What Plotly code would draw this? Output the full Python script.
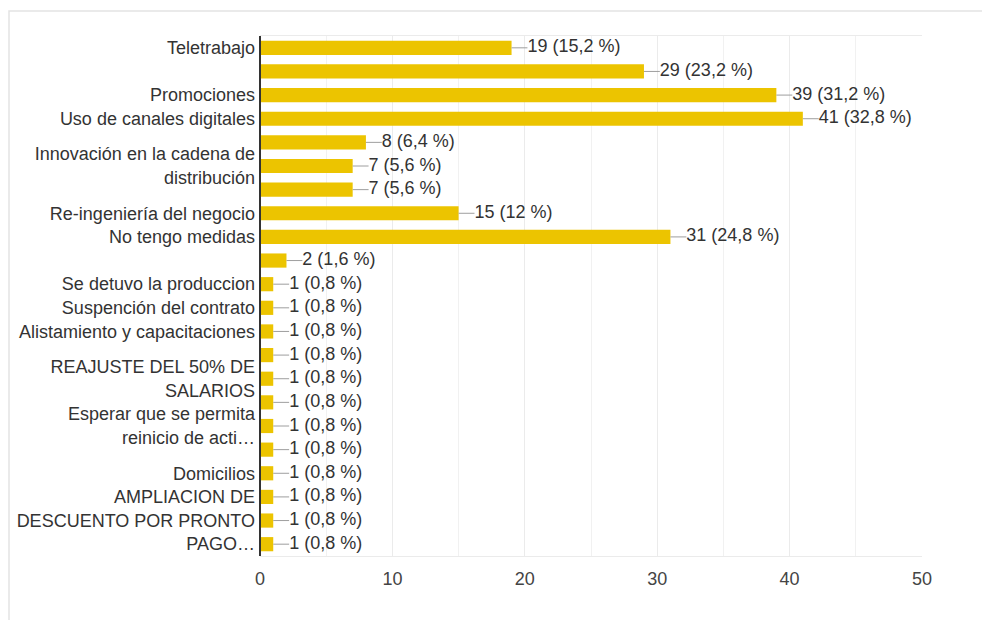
import plotly.graph_objects as go

# answer labels (one per bar; "" where the chart shows no label, "\n" separates wrapped lines)
categories = [
    "Teletrabajo", "", "Promociones", "Uso de canales digitales",
    "", "Innovación en la cadena de\ndistribución", "",
    "Re-ingeniería del negocio", "No tengo medidas", "",
    "Se detuvo la produccion", "Suspención del contrato", "Alistamiento y capacitaciones",
    "", "REAJUSTE DEL 50% DE\nSALARIOS", "", "Esperar que se permita\nreinicio de acti…", "",
    "Domicilios", "", "AMPLIACION DE\nDESCUENTO POR PRONTO\nPAGO…", "",
]
counts = [19, 29, 39, 41, 8, 7, 7, 15, 31, 2, 1, 1, 1, 1, 1, 1, 1, 1, 1, 1, 1, 1]
percents = ["15,2", "23,2", "31,2", "32,8", "6,4", "5,6", "5,6", "12", "24,8", "1,6",
            "0,8", "0,8", "0,8", "0,8", "0,8", "0,8", "0,8", "0,8", "0,8", "0,8", "0,8", "0,8"]
x_ticks = [0, 10, 20, 30, 40, 50]

n = len(counts)
pos = list(range(n))

# split wrapped labels into separate tick lines spaced one band apart
tickvals, ticktext = [], []
for i, lab in enumerate(categories):
    if not lab:
        continue
    lines = lab.split("\n")
    k = len(lines)
    for j, ln in enumerate(lines):
        tickvals.append(i - (k - 1) / 2 + j)
        ticktext.append(ln)

FONT = "Liberation Sans, Arial, sans-serif"
FS = 18
BAR = "#ecc400"

W, H = 982, 620
ML, MR, MT, MB = 260, 60, 36, 64
PW, PH = W - ML - MR, H - MT - MB

fig = go.Figure()
fig.add_trace(go.Bar(
    x=counts, y=pos, orientation="h",
    marker=dict(color=BAR, line=dict(width=0)),
    width=0.6, hoverinfo="skip",
))

# connectors from bar end to label
cx, cy = [], []
gap = 1.2
for v, p in zip(counts, pos):
    cx += [v, v + gap, None]
    cy += [p, p, None]
fig.add_trace(go.Scatter(x=cx, y=cy, mode="lines",
                         line=dict(color="#9e9e9e", width=1), hoverinfo="skip"))

fig.add_trace(go.Scatter(
    x=[v + gap for v in counts], y=pos, mode="text",
    text=[f"{c} ({p} %)" for c, p in zip(counts, percents)],
    textposition="middle right",
    textfont=dict(family=FONT, size=FS, color="#333333"),
    hoverinfo="skip",
))

fig.update_layout(
    width=W, height=H,
    margin=dict(l=ML, r=MR, t=MT, b=MB),
    paper_bgcolor="white", plot_bgcolor="white",
    showlegend=False,
    font=dict(family=FONT, size=FS, color="#333333"),
    xaxis=dict(range=[0, 50], tickvals=x_ticks, showgrid=True, gridcolor="#ebebeb",
               gridwidth=1, zeroline=False, showline=True, linecolor="#ebebeb", mirror=True,
               minor=dict(dtick=5, showgrid=True, gridcolor="#f1f1f1"),
               ticklabelstandoff=6,
               tickfont=dict(family=FONT, size=FS, color="#444444"), ticks="", ticklen=0),
    yaxis=dict(range=[n - 0.5, -0.5], tickmode="array", tickvals=tickvals, ticktext=ticktext,
               showgrid=False, zeroline=False, showline=False, ticks="",
               ticklabelstandoff=4,
               tickfont=dict(family=FONT, size=FS, color="#333333")),
    shapes=[
        dict(type="line", xref="paper", yref="paper", x0=0, x1=0, y0=0, y1=1,
             line=dict(color="#333333", width=2)),
        dict(type="rect", xref="paper", yref="paper",
             x0=(9 - ML) / PW, x1=(W + 20 - ML) / PW,
             y0=-(MB + 20) / PH, y1=(H - 11 - MB) / PH,
             line=dict(color="#e3e3e3", width=1.5), layer="below"),
    ],
)

fig.write_html("out.html", config={"displayModeBar": False},
               post_script="document.body.style.margin='0px';document.body.style.overflow='hidden';")
